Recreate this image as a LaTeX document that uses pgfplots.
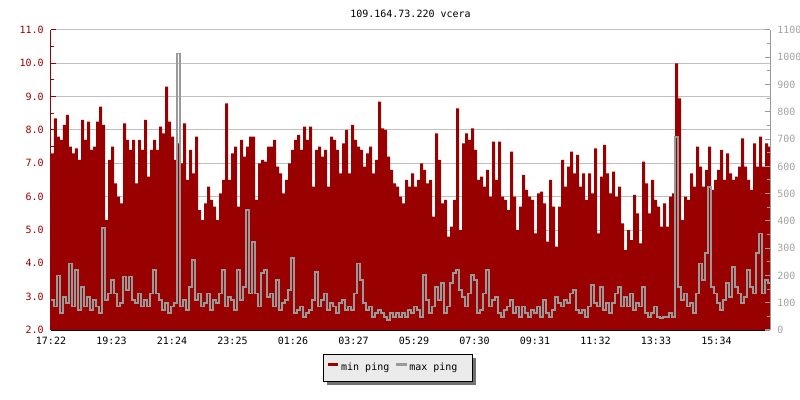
\documentclass[border=0pt]{standalone}
\usepackage{fontspec}
\setmainfont{DejaVu Sans Mono}
\usepackage{pgfplots}
\pgfplotsset{compat=1.18}
\usepackage{pgfplotstable}
\usetikzlibrary{backgrounds}

\definecolor{minred}{HTML}{990000}
\definecolor{maxgray}{HTML}{999999}
\definecolor{gridgray}{HTML}{C0C0C0}
\definecolor{leggray}{HTML}{EBEBEB}

% m = minutes after 17:22, mn = min ping (left axis), mx = max ping (right axis)
\pgfplotstableread{
m mn mx
0 7.3 110
6 8.35 86
12 7.8 200
18 7.7 61
24 8.15 122
30 8.45 98
36 7.5 244
42 7.3 86
48 7.45 220
54 7.1 73
60 8.3 159
66 7.7 86
72 8.25 122
78 7.4 73
84 7.5 110
90 8.25 86
96 8.7 61
102 8.15 373
108 5.3 110
114 7.1 134
120 7.5 183
126 6.4 134
132 6.0 86
138 5.8 98
144 8.2 196
150 7.7 147
156 7.4 196
162 7.7 110
168 6.4 98
174 7.7 134
180 7.4 86
186 8.3 110
192 6.6 86
198 7.4 134
204 7.7 220
210 7.4 134
216 8.1 110
222 7.9 73
228 9.3 98
234 8.25 61
240 7.8 86
246 7.1 98
252 7.6 1014
258 7.0 86
264 8.2 110
270 6.5 73
276 7.4 159
282 6.7 257
288 7.8 110
294 5.6 134
300 5.3 86
306 5.8 98
312 6.3 134
318 5.9 73
324 5.7 110
330 5.3 98
336 6.1 134
342 6.5 220
348 8.8 86
354 6.5 122
360 7.3 110
366 7.5 73
372 5.7 220
378 7.7 110
384 7.2 159
390 7.5 440
396 7.8 134
402 7.8 324
408 5.9 134
414 7.0 86
420 7.1 208
426 7.05 220
432 7.5 122
438 7.5 134
444 7.7 86
450 6.9 183
456 6.7 73
462 6.1 98
468 6.5 110
474 7.0 147
480 7.4 263
486 7.7 61
492 7.85 73
498 7.4 86
504 8.1 49
510 7.7 61
516 8.1 73
522 6.3 110
528 7.4 214
534 7.5 86
540 7.2 110
546 7.4 134
552 6.3 73
558 7.8 98
564 7.7 86
570 7.4 61
576 6.7 98
582 7.6 110
588 8.0 73
594 6.7 86
600 8.15 73
606 7.7 134
612 7.5 244
618 7.4 183
624 6.9 98
630 7.3 73
636 7.5 86
642 6.7 49
648 7.1 61
654 8.85 73
660 8.05 61
666 8.0 49
672 7.2 37
678 6.8 61
684 6.4 49
690 6.3 61
696 6.0 49
702 5.8 61
708 6.5 49
714 6.3 73
720 6.7 61
726 6.3 86
732 6.5 73
738 7.0 49
744 6.8 202
750 6.4 110
756 6.5 61
762 5.4 86
768 7.9 159
774 7.1 110
780 5.8 171
786 5.9 61
792 4.8 86
798 5.1 171
804 5.9 208
810 8.65 220
816 5.0 147
822 7.6 122
828 7.9 86
834 7.7 134
840 8.05 202
846 7.4 183
852 6.5 61
858 6.6 73
864 6.3 134
870 6.8 220
876 6.0 86
882 7.65 110
888 6.5 122
894 7.65 61
900 6.0 49
906 5.9 73
912 5.6 86
918 7.35 110
924 6.0 61
930 5.0 86
936 5.7 49
942 6.65 86
948 6.2 61
954 6.0 49
960 5.9 73
966 4.9 61
972 6.1 86
978 6.15 49
984 5.8 110
990 4.65 61
996 6.5 49
1002 5.7 73
1008 4.5 122
1014 5.7 98
1020 7.1 86
1026 6.3 110
1032 6.9 98
1038 7.35 134
1044 6.7 147
1050 7.25 73
1056 6.3 61
1062 6.7 73
1068 5.9 49
1074 6.7 86
1080 6.1 165
1086 7.45 98
1092 4.9 86
1098 6.6 159
1104 7.55 73
1110 6.7 98
1116 6.1 61
1122 6.75 98
1128 6.0 134
1134 6.3 159
1140 5.2 86
1146 4.4 122
1152 5.0 86
1158 4.7 134
1164 6.05 73
1170 5.5 98
1176 4.6 86
1182 7.05 159
1188 6.4 61
1194 5.5 49
1200 6.5 61
1206 5.9 86
1212 5.7 49
1218 5.1 43
1224 5.8 49
1230 5.1 49
1236 6.0 61
1242 6.1 49
1248 10.0 709
1254 8.95 159
1260 5.3 110
1266 6.0 134
1272 5.9 86
1278 6.7 98
1284 6.3 61
1290 7.5 134
1296 6.9 244
1302 6.3 183
1308 6.8 281
1314 7.5 525
1320 6.2 159
1326 6.5 134
1332 6.8 98
1338 7.4 73
1344 6.5 110
1350 7.3 171
1356 6.7 122
1362 6.5 232
1368 6.6 159
1374 6.9 134
1380 7.75 98
1386 6.9 122
1392 6.5 220
1398 6.2 159
1404 7.6 134
1410 6.9 281
1416 7.8 354
1422 6.9 134
1428 7.6 183
1434 7.5 171
1440 7.5 171
}\pingdata

\pgfplotsset{
  pingaxis/.style={
    at={(0pt,0pt)}, anchor=south west,
    scale only axis, width=539.25pt, height=225pt,
    xmin=0, xmax=1438,
    tick align=inside,
    major tick length=3.75pt, minor tick length=2.25pt,
    tick label style={font=\fontsize{7.5}{9}\selectfont},
  },
}

\begin{document}
\begin{tikzpicture}
\useasboundingbox (-38.25pt,-52.5pt) rectangle (561.75pt,247.5pt);

\begin{axis}[
  pingaxis,
  ymin=2, ymax=11,
  axis x line*=bottom, axis y line*=left,
  xtick pos=left, ytick pos=left,
  xtick={0,121,242,363,484,605,726,847,968,1089,1210,1331},
  xticklabels={17:22,19:23,21:24,23:25,01:26,03:27,05:29,07:30,09:31,11:32,13:33,15:34},
  ytick={2,3,4,5,6,7,8,9,10,11},
  yticklabels={2.0,3.0,4.0,5.0,6.0,7.0,8.0,9.0,10.0,11.0},
  minor y tick num=1,
  x axis line style={black, line width=1pt},
  x tick style={black, line width=0.75pt},
  y axis line style={minred, line width=0.75pt},
  y tick style={minred, line width=0.75pt},
  yticklabel style={text=minred, xshift=-2pt},
  xticklabel style={yshift=-2pt},
  ymajorgrids,
  grid style={gridgray, line width=0.75pt},
  title={109.164.73.220 vcera},
  every axis title/.style={at={(0.5,1)}, anchor=center, yshift=12pt, font=\fontsize{7.5}{9}\selectfont},
  legend columns=2,
  legend style={at={(0.4826,-0.1267)}, anchor=center, name=leg,
    draw=black, line width=0.75pt, fill=leggray,
    font=\fontsize{7.5}{9}\selectfont,
    inner xsep=3pt, inner ysep=4.5pt,
    /tikz/every even column/.append style={column sep=3pt}},
  legend image code/.code={\path[draw=none] (0pt,1.3pt) rectangle (8pt,3.5pt);},
]
\addplot[const plot, fill=minred, draw=none, forget plot] table[x=m, y=mn] {\pingdata} \closedcycle;
\addlegendimage{fill=minred, draw=none}
\addlegendentry{min ping}
\addlegendimage{fill=maxgray, draw=none}
\addlegendentry{max ping\hspace*{6pt}}
\end{axis}

\begin{axis}[
  pingaxis,
  ymin=0, ymax=1100,
  axis x line=none, axis y line*=right,
  ytick pos=right,
  ytick={0,100,200,300,400,500,600,700,800,900,1000,1100},
  yticklabels={0,100,200,300,400,500,600,700,800,900,1000,1100},
  minor y tick num=1,
  y axis line style={maxgray, line width=0.75pt},
  y tick style={maxgray, line width=0.75pt},
  yticklabel style={text=maxgray!90, xshift=2pt},
]
\addplot[const plot, maxgray, line width=1.4pt] table[x=m, y=mx] {\pingdata};
\end{axis}

% legend shadow, behind the legend box
\begin{pgfonlayer}{background}
\fill[black!55] ([shift={(2.6pt,-2.6pt)}]leg.south west) rectangle ([shift={(2.6pt,-2.6pt)}]leg.north east);
\end{pgfonlayer}
\end{tikzpicture}
\end{document}
